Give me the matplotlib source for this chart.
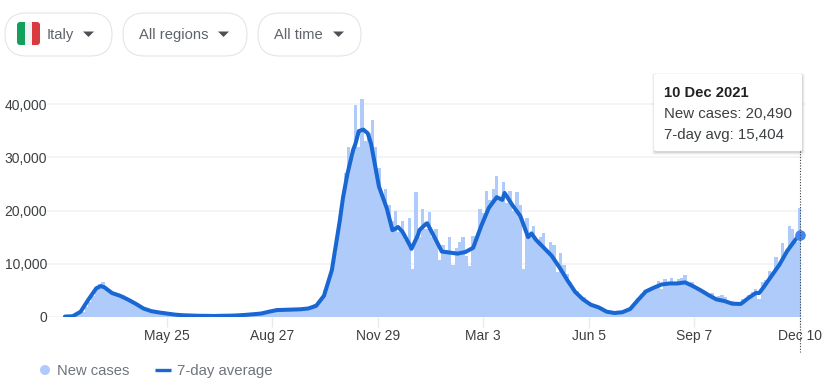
import numpy as np
import matplotlib
matplotlib.use("Agg")
import matplotlib.pyplot as plt
from matplotlib.patches import FancyBboxPatch, Polygon, Circle, Rectangle
from matplotlib.lines import Line2D

plt.rcParams['font.family'] = ['Liberation Sans', 'DejaVu Sans']

START = np.datetime64('2020-02-24')

new_cases = [
    80,100,150,300,600,1000,1800,2800,4000,5500,
    6200,6500,5600,4800,4700,4300,4000,4200,3800,3400,
    3000,2500,2200,1900,1500,1300,1150,1000,900,750,
    650,500,450,350,330,300,280,270,250,230,
    220,210,200,180,200,190,230,230,260,250,
    280,300,350,400,480,450,520,630,650,800,
    1050,1200,1350,1300,1400,1350,1450,1400,1500,1450,
    1600,1550,1700,1900,2400,2900,3800,5000,6500,8800,
    12000,16000,21000,27000,32000,30000,39800,32000,41000,33000,
    34500,37000,32000,28000,23000,24000,21000,18000,20000,16000,
    18000,14500,18500,9000,23500,15000,20300,16500,19800,15000,
    16500,10700,13500,12500,15000,9700,13000,14000,15000,11500,
    9500,15300,15000,20300,19500,23700,22000,24000,26500,22000,
    25400,21500,23700,20000,23500,21000,9000,18500,15500,17000,
    14000,15000,15800,12500,14000,13500,8500,12000,9800,8000,
    6500,5200,4800,3800,3700,2900,2400,2500,2000,1900,
    1300,1100,800,750,700,1000,900,1400,1700,2700,
    3500,4400,5000,5000,5500,5800,6800,5300,7200,6300,
    7400,6200,7100,7300,7900,6400,6600,5800,5300,5000,
    4700,4200,4600,3600,3900,4100,3700,2900,3000,2700,
    2400,3300,3300,4100,4700,5200,3300,6500,7000,8700,
    8500,11300,9800,13900,12000,17000,16500,14000,20490,
]

avg_weekly = [
    80,150,1000,3300,5400,5600,4500,4000,3300,2500,
    1600,1100,850,650,450,330,280,230,220,190,
    230,250,300,400,520,650,1000,1300,1350,1400,
    1450,1600,2100,4000,8800,18000,27000,32500,35200,32500,
    24500,20400,16500,16000,13300,15500,17500,15200,12300,12100,
    11900,12200,13000,17000,20500,22500,23300,21000,19000,15000,
    14500,13000,11500,9300,6900,4700,3300,2300,1800,1000,
    750,900,1500,3200,4800,5500,6100,6300,6300,6500,
    5800,5000,4100,3300,3000,2500,2450,3500,4500,5600,
    7700,9800,12400,14400,
]
# readings between the weekly points, where the curve turns quickly
extra_days = [32, 248, 257, 262, 270, 292, 297, 309, 316, 323, 327, 390, 416, 603, 619, 655]
extra_avg = [5800, 22500, 31400, 34900, 34500, 16300, 16900, 12800, 16300, 17600, 16000,
             22000, 15700, 2500, 4500, 15404]

x_ticks = ['2020-05-25', '2020-08-27', '2020-11-29', '2021-03-03',
           '2021-06-05', '2021-09-07', '2021-12-10']
x_tick_labels = ['May 25', 'Aug 27', 'Nov 29', 'Mar 3', 'Jun 5', 'Sep 7', 'Dec 10']
y_ticks = [0, 10000, 20000, 30000, 40000]
y_tick_labels = ['0', '10,000', '20,000', '30,000', '40,000']

case_dates = START + np.arange(len(new_cases)) * 3 + 1
avg_days = np.concatenate([np.arange(len(avg_weekly)) * 7, extra_days])
avg_vals = np.concatenate([avg_weekly, extra_avg])
order = np.argsort(avg_days)
avg_dates = START + avg_days[order]
avg_vals = avg_vals[order]
last_date = np.datetime64('2021-12-10')

W, H = 828, 382
fig = plt.figure(figsize=(W / 100, H / 100), dpi=100, facecolor='white')

L, R, T, B = 47, 804, 90, 317
ax = fig.add_axes([L / W, 1 - B / H, (R - L) / W, (B - T) / H])
ax.set_facecolor('none')
for s in ax.spines.values():
    s.set_visible(False)
PX_DAY = 735.0 / 655
ax.set_xlim(START + np.timedelta64(int(round((L - 65) / PX_DAY)), 'D'),
            START + np.timedelta64(int(round((R - 65) / PX_DAY)), 'D'))
ax.set_ylim(0, (B - T) / 5.325 * 1000)

ax.set_yticks(y_ticks)
ax.set_yticklabels(y_tick_labels, fontsize=10, color='#3c4043')
ax.tick_params(axis='y', length=0, pad=0)
ax.set_xticks(np.array(x_ticks, dtype='datetime64[D]'))
ax.set_xticklabels(x_tick_labels, fontsize=10, color='#3c4043')
ax.tick_params(axis='x', length=7, width=1, color='#e8eaed', pad=1.5)
ax.grid(axis='y', color='#f1f3f4', linewidth=1.3, zorder=0)
ax.set_axisbelow(True)

ax.bar(case_dates, new_cases, width=3, color='#aecbfa', linewidth=0, zorder=2)
ax.plot(avg_dates, avg_vals, color='#1967d2', linewidth=2.9,
        solid_joinstyle='round', solid_capstyle='round', zorder=3)
ax.plot([last_date], [avg_vals[-1]], 'o', color='#4285f4', markersize=7.6,
        markeredgewidth=0, zorder=4, clip_on=False)

# interface overlay in pixel coordinates
ui = fig.add_axes([0, 0, 1, 1])
ui.set_xlim(0, W)
ui.set_ylim(H, 0)
ui.axis('off')
ui.set_facecolor('none')

ui.add_line(Line2D([800.5, 800.5], [151, 352], color='#3c4043', linewidth=0.8,
                   linestyle=(0, (1, 1.5)), zorder=5))


def pill(x0, x1, label, tx, ax0):
    y0, y1 = 13, 56
    r = (y1 - y0) / 2
    ui.add_patch(FancyBboxPatch((x0, y0), x1 - x0, y1 - y0,
                                boxstyle=f"round,pad=0,rounding_size={r}",
                                fc='white', ec='#e3e5e8', lw=0.8))
    ui.text(tx, 39, label, fontsize=10.6, color='#5f6368', va='baseline', ha='left')
    ui.add_patch(Polygon([(ax0, 31.5), (ax0 + 11, 31.5), (ax0 + 5.5, 37)],
                         closed=True, fc='#4d5156', ec='none'))


pill(5, 112, 'Italy', 47, 83)
pill(123, 247, 'All regions', 139, 218)
pill(258, 361, 'All time', 274, 333)

flag_clip = FancyBboxPatch((17, 22), 23, 23, boxstyle="round,pad=0,rounding_size=3",
                           fc='none', ec='none')
ui.add_patch(flag_clip)
for fx, fw, col in [(17, 8, '#12a05c'), (25, 7, '#f1f3f4'), (32, 8, '#d93a40')]:
    band = Rectangle((fx, 22), fw, 23, fc=col, ec='none')
    ui.add_patch(band)
    band.set_clip_path(flag_clip)

# tooltip with soft shadow
for grow, alpha in [(3, 0.03), (2, 0.05), (1, 0.08)]:
    ui.add_patch(FancyBboxPatch((654 - grow + 1, 74 - grow + 2), 148 + 2 * grow - 1, 77 + 2 * grow - 1,
                                boxstyle="round,pad=0,rounding_size=2",
                                fc='#000000', alpha=alpha, ec='none', zorder=5))
ui.add_patch(FancyBboxPatch((654, 74), 148, 77, boxstyle="round,pad=0,rounding_size=2",
                            fc='white', ec='none', zorder=6))
ui.text(664, 97, '10 Dec 2021', fontsize=10.6, fontweight='bold', color='#202124',
        va='baseline', zorder=7)
ui.text(664, 118.5, 'New cases: 20,490', fontsize=10.8, color='#3c4043', va='baseline', zorder=7)
ui.text(664, 138.5, '7-day avg: 15,404', fontsize=10.8, color='#3c4043', va='baseline', zorder=7)

# legend
ui.add_patch(Circle((45, 370), 5, fc='#aecbfa', ec='none'))
ui.text(57, 375, 'New cases', fontsize=10.6, color='#70757a', va='baseline')
ui.add_line(Line2D([155, 171], [370, 370], color='#1967d2', linewidth=2.4, solid_capstyle='butt'))
ui.text(177, 375, '7-day average', fontsize=10.8, color='#70757a', va='baseline')

fig.savefig('out.png', dpi=100, facecolor='white')
